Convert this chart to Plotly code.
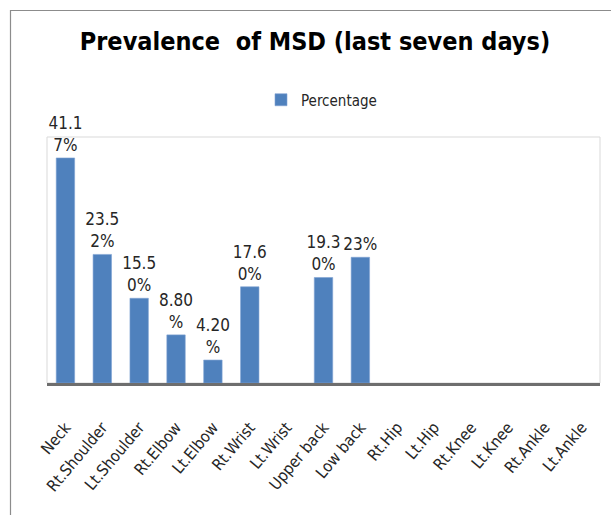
import plotly.graph_objects as go

categories = ["Neck", "Rt.Shoulder", "Lt.Shoulder", "Rt.Elbow", "Lt.Elbow", "Rt.Wrist",
              "Lt.Wrist", "Upper back", "Low back", "Rt.Hip", "Lt.Hip", "Rt.Knee",
              "Lt.Knee", "Rt.Ankle", "Lt.Ankle"]
percentages = [41.17, 23.52, 15.50, 8.80, 4.20, 17.60, None, 19.30, 23.0,
               None, None, None, None, None, None]
value_labels = ["41.1<br>7%", "23.5<br>2%", "15.5<br>0%", "8.80<br>%", "4.20<br>%",
                "17.6<br>0%", "", "19.3<br>0%", "23%", "", "", "", "", "", ""]

FONT = "DejaVu Sans Condensed, Roboto, sans-serif"
W, H = 611, 515
L, R, T, B = 47, 11, 137, 132
pw, ph = W - L - R, H - T - B

def px_x(x):
    return (x - L) / pw

def px_y(y):
    return (H - B - y) / ph

fig = go.Figure()
fig.add_trace(go.Bar(
    x=categories, y=percentages, name="Percentage",
    marker=dict(color="#4F81BD", line=dict(color="#7FA3D3", width=0.6)),
    text=value_labels, textposition="outside", cliponaxis=False,
    constraintext="none",
    textfont=dict(family=FONT, size=17, color="#262626"),
))

fig.update_layout(
    width=W, height=H,
    margin=dict(l=L, r=R, t=T, b=B, autoexpand=False),
    paper_bgcolor="white", plot_bgcolor="white",
    bargap=0.5,
    showlegend=True,
    title=dict(text="<b>Prevalence  of MSD (last seven days)</b>",
               x=315 / W, xanchor="center", y=1 - 41 / H, yanchor="middle",
               font=dict(family=FONT, size=25, color="black")),
    legend=dict(x=0.5 - 2 / pw, xanchor="center", y=px_y(100), yanchor="middle",
                orientation="h", font=dict(family=FONT, size=15, color="#262626"),
                itemwidth=30),
    xaxis=dict(tickangle=-50, tickfont=dict(family=FONT, size=16, color="#262626"),
               showline=True, linecolor="#6e6e6e", linewidth=2.5, ticks="",
               showgrid=False, automargin=False, ticklabelstandoff=26),
    yaxis=dict(range=[0, 45], visible=False, showgrid=False, automargin=False),
    shapes=[
        dict(type="rect", xref="paper", yref="paper", x0=0, x1=1, y0=0, y1=1,
             line=dict(color="#d9d9d9", width=1), layer="below"),
        dict(type="line", xref="paper", yref="paper", x0=px_x(10.5), x1=px_x(10.5),
             y0=px_y(10), y1=px_y(515), line=dict(color="#8c8c8c", width=1.2)),
        dict(type="line", xref="paper", yref="paper", x0=px_x(10), x1=px_x(611),
             y0=px_y(10.5), y1=px_y(10.5), line=dict(color="#8c8c8c", width=1.2)),
    ],
)

fig.write_html("out.html", config={"displayModeBar": False},
               post_script="document.body.style.margin='0';document.body.style.padding='0';")
